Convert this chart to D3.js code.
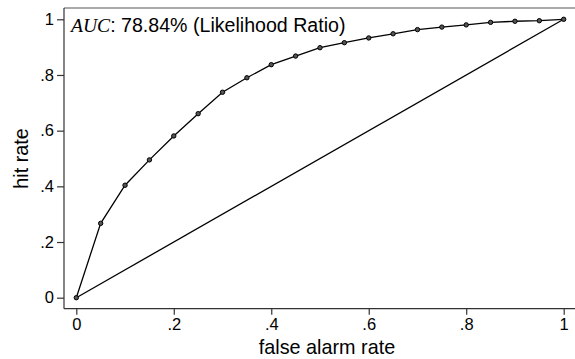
<!DOCTYPE html>
<html>
<head>
<meta charset="utf-8">
<script src="https://cdn.jsdelivr.net/npm/d3@7"></script>
<style>
  body { margin: 0; background: #fff; }
  text { font-family: "Liberation Sans", Arial, sans-serif; fill: #000; }
</style>
</head>
<body>
<svg id="chart" width="575" height="359"></svg>
<script>
// ROC points (false alarm rate / hit rate)
const falseAlarm = [0, .05, .1, .15, .2, .25, .3, .35, .4, .45, .5, .55, .6, .65, .7, .75, .8, .85, .9, .95, 1]
const hitRate = [0, .267, .404, .495, .581, .661, .738, .790, .837, .868, .898, .916, .933, .948, .963, .972, .980, .989, .993, .995, 1]
const chanceLine = [[0, 0], [1, 1]]
const tickVals = [0, .2, .4, .6, .8, 1]
const tickLabels = ['0', '.2', '.4', '.6', '.8', '1']
const aucLabel = ': 78.84% (Likelihood Ratio)'

const svg = d3.select('#chart')
const x = d3.scaleLinear().domain([0, 1]).range([76.3, 563.7])
const y = d3.scaleLinear().domain([0, 1]).range([297.7, 19.3])
const plot = {left: 64, top: 8, right: 575, bottom: 308.7}

// frame on top
svg.append('line')
  .attr('x1', plot.left).attr('x2', plot.right)
  .attr('y1', plot.top).attr('y2', plot.top)
  .style('stroke', '#555').style('stroke-width', 1.2)

// y axis
const yAxis = d3.axisLeft(y).tickValues(tickVals)
  .tickFormat((d, i) => tickLabels[i]).tickSize(7).tickPadding(3)
const gy = svg.append('g').attr('transform', `translate(${plot.left},0)`).call(yAxis)
gy.select('.domain').remove()
gy.append('line').attr('y1', plot.top).attr('y2', plot.bottom)
  .style('stroke', '#333').style('stroke-width', 1.2)
gy.selectAll('.tick line').style('stroke', '#333').style('stroke-width', 1.2)
gy.selectAll('.tick text').style('font-size', '16.5px').style('font-family', '"Liberation Sans", Arial, sans-serif').attr('fill', '#000')

// x axis
const xAxis = d3.axisBottom(x).tickValues(tickVals)
  .tickFormat((d, i) => tickLabels[i]).tickSize(6).tickPadding(4)
const gx = svg.append('g').attr('transform', `translate(0,${plot.bottom})`).call(xAxis)
gx.select('.domain').remove()
gx.append('line').attr('x1', plot.left).attr('x2', plot.right)
  .style('stroke', '#333').style('stroke-width', 1.2)
gx.selectAll('.tick line').style('stroke', '#333').style('stroke-width', 1.2)
gx.selectAll('.tick text').style('font-size', '16.5px').style('font-family', '"Liberation Sans", Arial, sans-serif').attr('fill', '#000')

// axis titles
svg.append('text')
  .attr('x', 327).attr('y', 354.3)
  .attr('text-anchor', 'middle')
  .style('font-size', '19.8px')
  .text('false alarm rate')

svg.append('text')
  .attr('transform', 'translate(27.5,158.5) rotate(-90)')
  .attr('text-anchor', 'middle')
  .style('font-size', '19.8px')
  .text('hit rate')

// chance diagonal
const line = d3.line().x(d => x(d[0])).y(d => y(d[1]))
svg.append('path')
  .datum(chanceLine)
  .attr('d', line)
  .style('fill', 'none').style('stroke', '#000').style('stroke-width', 1.3)

// ROC curve
const pts = falseAlarm.map((f, i) => [f, hitRate[i]])
svg.append('path')
  .datum(pts)
  .attr('d', line)
  .style('fill', 'none').style('stroke', '#000').style('stroke-width', 1.3)

svg.selectAll('.pt')
  .data(pts)
  .enter()
  .append('circle')
  .attr('class', 'pt')
  .attr('cx', d => x(d[0]))
  .attr('cy', d => y(d[1]))
  .attr('r', 2.2)
  .style('fill', '#555')
  .style('stroke', '#000')
  .style('stroke-width', 1)

// AUC annotation
const ann = svg.append('text').attr('x', 71).attr('y', 32.3).style('font-size', '19.6px')
ann.append('tspan')
  .style('font-family', '"Liberation Serif", "Times New Roman", serif')
  .style('font-style', 'italic')
  .text('AUC')
ann.append('tspan').text(aucLabel)
</script>
</body>
</html>
